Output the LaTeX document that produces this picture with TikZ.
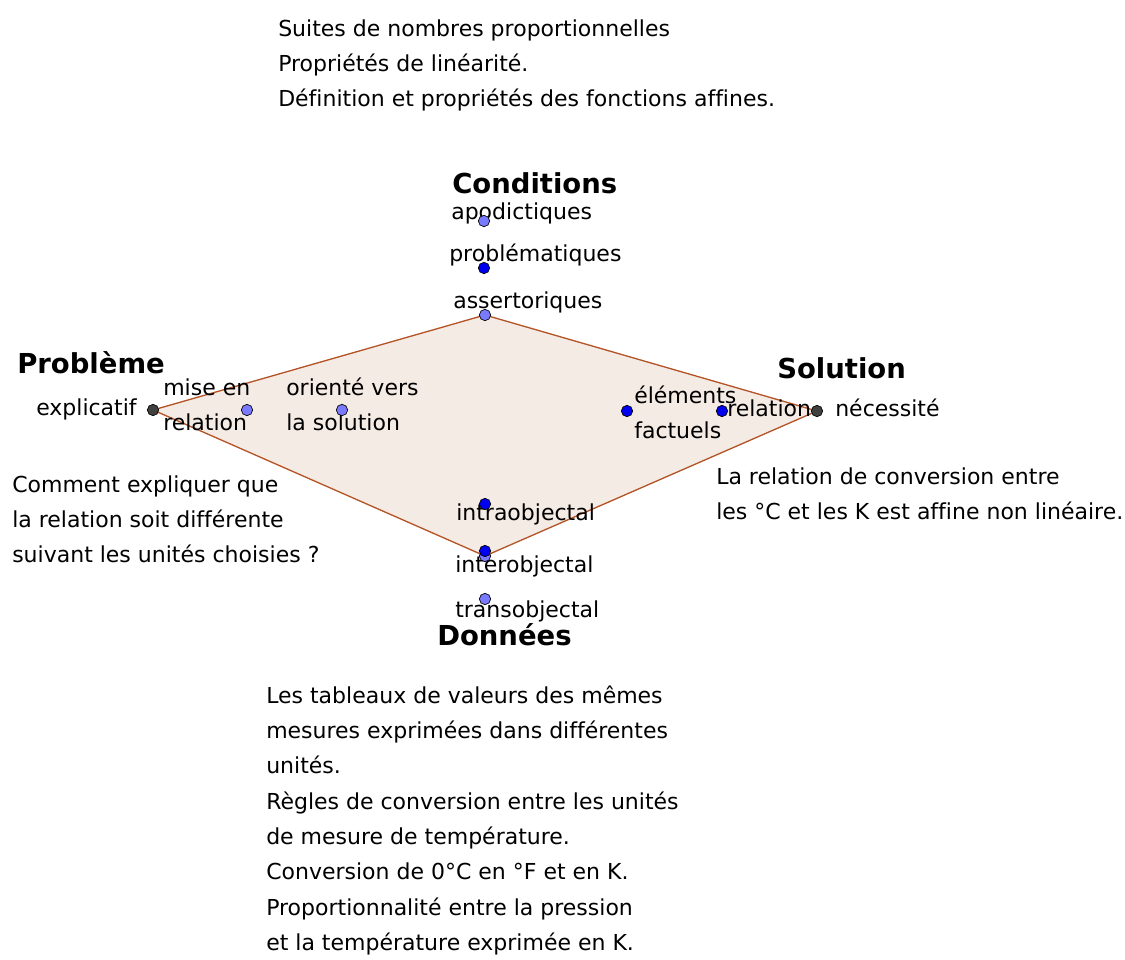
\documentclass[tikz,border=0pt]{standalone}
\usepackage{fontspec}
\usepackage{xcolor}
\usepackage{tikz}
\usetikzlibrary{backgrounds}
\newfontfamily\ggb[Ligatures=NoCommon]{DejaVu Sans}
\definecolor{ptlight}{RGB}{122,122,255}
\definecolor{ptdark}{RGB}{0,0,240}
\definecolor{ptgray}{RGB}{64,64,64}
\definecolor{polyline}{RGB}{180,85,40}
\definecolor{polyfill}{RGB}{245,235,229}

\begin{document}
\begin{tikzpicture}[x=0.75pt,y=-0.75pt,
  lbl/.style={font=\ggb\fontsize{16.5}{26.5}\selectfont,inner sep=0pt,anchor=base west},
  blk/.style={font=\ggb\fontsize{16.5}{26.5}\selectfont,inner sep=0pt,anchor=north west,align=left},
  hd/.style={font=\ggb\bfseries\fontsize{20.6}{24}\selectfont,inner sep=0pt,anchor=base west},
  pt/.style={circle,draw=black,line width=0.5pt,inner sep=0pt,minimum size=8.5pt},
  ptl/.style={pt,fill=ptlight},
  ptd/.style={pt,fill=ptdark},
  ptg/.style={pt,fill=ptgray},
  poly/.style={draw=polyline,fill=polyfill,line width=1pt,line join=miter}]
\useasboundingbox (0,0) rectangle (1125,960);
% texts
\node[blk] (top) at (278,11.3) {\strut Suites de nombres proportionnelles\\Propriétés de linéarité.\\Définition et propriétés des fonctions affines.};
\node[hd] (cond) at (452,193) {Conditions};
\node[lbl] (tapod) at (451,219) {apodictiques};
\node[lbl] (tprob) at (449,261) {problématiques};
\node[lbl] (tass) at (453,308) {assertoriques};
\node[hd] (pbm) at (17,373) {Problème};
\node[lbl] (texpl) at (36,415) {explicatif};
\node[blk] (tmise) at (163,370.3) {\strut mise en\\relation};
\node[blk] (tori) at (286,370.3) {\strut orienté vers\\la solution};
\node[hd] (sol) at (777,378) {Solution};
\node[blk] (telem) at (634,378.3) {\strut éléments\\factuels};
\node[lbl] (trel) at (727,416) {relation};
\node[lbl] (tnec) at (835,416) {nécessité};
\node[blk] (comment) at (12,467.3) {\strut Comment expliquer que\\la relation soit différente\\suivant les unités choisies ?};
\node[blk] (conv) at (716,459.3) {\strut La relation de conversion entre\\les °C et les K est affine non linéaire.};
\node[lbl] (tintra) at (456,520) {intraobjectal};
\node[lbl] (tinter) at (455,572) {interobjectal};
\node[lbl] (ttrans) at (455,617) {transobjectal};
\node[hd] (don) at (437,645) {Données};
\node[blk] (data) at (266,678.3) {\strut Les tableaux de valeurs des mêmes\\mesures exprimées dans différentes\\unités.\\Règles de conversion entre les unités\\de mesure de température.\\Conversion de 0°C en °F et en K.\\Proportionnalité entre la pression\\et la température exprimée en K.};
% points
\node[ptl] (apod) at (484,221) {};
\node[ptd] (prob) at (484,268) {};
\node[ptl] (ass) at (485,315) {};
\node[ptg] (expl) at (153,410) {};
\node[ptl] (mise) at (247,410) {};
\node[ptl] (ori) at (342,410) {};
\node[ptd] (elem) at (627,411) {};
\node[ptd] (rel) at (722,411) {};
\node[ptg] (nec) at (817,411) {};
\node[ptd] (intra) at (485,504) {};
\node[ptl] (bot) at (485,556) {};
\node[ptd] (inter) at (485,551) {};
\node[ptl] (trans) at (485,599) {};
% quadrilateral
\begin{scope}[on background layer]
\draw[poly] (expl.center) -- (ass.center) -- (nec.center) -- (bot.center) -- cycle;
\end{scope}
\end{tikzpicture}
\end{document}
